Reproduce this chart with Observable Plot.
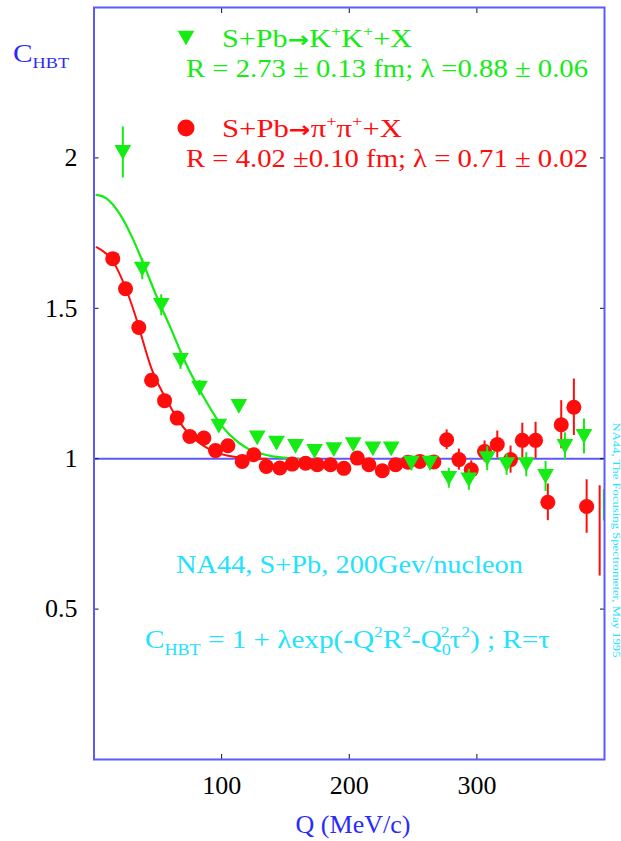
<!DOCTYPE html>
<html><head><meta charset="utf-8">
<script src="https://cdn.jsdelivr.net/npm/d3@7"></script>
<script src="https://cdn.jsdelivr.net/npm/@observablehq/plot@0.6"></script>
<style>body{margin:0;background:#fff} svg{display:block}</style>
</head><body><div id="chart"></div>
<script>
// ---- data ----
const pionQ = [14.7,24.7,35.1,45.1,55.3,65.2,75.1,86.1,95.2,104.9,116.1,125.2,135.0,145.6,155.3,165.8,174.9,185.3,195.8,206.3,215.4,225.9,236.3,246.0,255.3,266.3,276.3,285.9,295.6,306.0,316.0,326.4,335.6,346.0,355.6,366.1,376.0,386.0];
const pionC = [1.665,1.565,1.436,1.261,1.193,1.135,1.074,1.069,1.027,1.043,0.991,1.013,0.974,0.969,0.982,0.985,0.980,0.980,0.968,1.002,0.980,0.960,0.980,0.988,0.991,0.989,1.063,0.997,0.963,1.024,1.047,0.997,1.061,1.061,0.855,1.113,1.171,0.841];
const pionErr = [0.012,0.012,0.012,0.010,0.010,0.010,0.010,0.010,0.010,0.010,0.010,0.010,0.010,0.010,0.010,0.010,0.010,0.012,0.012,0.015,0.015,0.015,0.015,0.015,0.018,0.020,0.033,0.035,0.030,0.035,0.045,0.045,0.057,0.060,0.061,0.080,0.094,0.089];

const kaonQ = [22.6,37.8,52.7,67.8,82.7,97.8,113.5,127.9,143.0,157.9,172.8,187.9,203.1,218.5,232.9,248.6,263.2,278.0,293.7,308.1,323.3,338.7,353.8,369.0,383.9];
const kaonC = [2.018,1.630,1.510,1.327,1.235,1.108,1.174,1.069,1.052,1.041,1.024,1.030,1.047,1.033,1.033,0.985,0.985,0.935,0.930,1.000,0.980,0.980,0.941,1.041,1.074];
const kaonErr = [0.085,0.035,0.035,0.030,0.025,0.020,0.020,0.020,0.020,0.020,0.020,0.020,0.020,0.020,0.020,0.025,0.025,0.033,0.035,0.040,0.035,0.040,0.050,0.045,0.058];

// error bars whose markers are not drawn (last bins)
const edgeSeries = ["pion","kaon"];
const edgeQ = [396.2,399.5];
const edgeC = [0.760,0.845];
const edgeErr = [0.150,0.052];

// fitted curves
const pionFitQ = [2,7,15,25,35,45,55,65,75,85,95,105,115,125,135];
const pionFitC = [1.703,1.690,1.655,1.565,1.440,1.300,1.210,1.135,1.080,1.045,1.022,1.010,1.004,1.001,1.000];
const kaonFitQ = [2,10,20,30,40,50,60,70,80,90,100,110,120,130,140,150,160];
const kaonFitC = [1.877,1.865,1.815,1.735,1.635,1.530,1.435,1.335,1.250,1.175,1.110,1.065,1.035,1.018,1.008,1.003,1.000];

const xTicks = [100,200,300];
const yTicks = [0.5,1,1.5,2];
const xDomain = [0,400];
const yDomain = [0,2.5];
const baseline = [1];

// ---- styles ----
const GREEN = "#14ec14", RED = "#ff0c0c", BLUE = "#5a5aff", BLUE_TXT = "#2a2aff", CYAN = "#22e2ff";

const pion = pionQ.map((q,i)=>({q, c:pionC[i], e:pionErr[i]}));
const kaon = kaonQ.map((q,i)=>({q, c:kaonC[i], e:kaonErr[i]}));
const edge = edgeQ.map((q,i)=>({s:edgeSeries[i], q, c:edgeC[i], e:edgeErr[i]}));
const pionFit = pionFitQ.map((q,i)=>({q, c:pionFitC[i]}));
const kaonFit = kaonFitQ.map((q,i)=>({q, c:kaonFitC[i]}));

const downTriangle = {
  draw(ctx, size) {
    const w = Math.sqrt(size) * 1.5, h = w * 0.88;
    ctx.moveTo(-w/2, -h/2); ctx.lineTo(w/2, -h/2); ctx.lineTo(0, h/2); ctx.closePath();
  }
};

const plot = Plot.plot({
  width: 621, height: 841,
  marginLeft: 93.5, marginRight: 17, marginTop: 7, marginBottom: 82,
  x: {domain: xDomain},
  y: {domain: yDomain},
  style: {fontFamily: "'Liberation Serif', 'Times New Roman', serif", fontSize: "26px", color: "#111", background: "#fff"},
  marks: [
    Plot.ruleY(baseline, {stroke: BLUE, strokeWidth: 2}),
    Plot.line(pionFit, {x: "q", y: "c", stroke: RED, strokeWidth: 2, curve: "natural"}),
    Plot.line(kaonFit, {x: "q", y: "c", stroke: GREEN, strokeWidth: 2.2, curve: "natural"}),
    Plot.ruleX(pion, {x: "q", y1: d => d.c - d.e, y2: d => d.c + d.e, stroke: RED, strokeWidth: 2}),
    Plot.ruleX(edge, {x: "q", y1: d => d.c - d.e, y2: d => d.c + d.e, stroke: d => d.s === "pion" ? RED : GREEN, strokeWidth: 2}),
    Plot.dot(pion, {x: "q", y: "c", r: 7.5, fill: RED}),
    Plot.ruleX(kaon, {x: "q", y1: d => d.c - d.e, y2: d => d.c + d.e, stroke: GREEN, strokeWidth: 2}),
    Plot.dot(kaon, {x: "q", y: "c", r: 6.3, symbol: downTriangle, fill: GREEN}),
    Plot.axisY(yTicks, {anchor: "left", tickSize: -5, tickPadding: 21.5, label: null, fill: "#000", tickFormat: d => String(d)}),
    Plot.axisY(yTicks, {anchor: "right", tickSize: -5, tickFormat: () => "", label: null}),
    Plot.axisX(xTicks, {anchor: "bottom", tickSize: -5, tickPadding: 21, label: null, fill: "#000", tickFormat: d => String(d)}),
    Plot.axisX(xTicks, {anchor: "top", tickSize: -5, tickFormat: () => "", label: null}),
    Plot.frame({stroke: BLUE, strokeWidth: 2})
  ]
});
document.getElementById("chart").appendChild(plot);

// ---- annotations (rich text with sub/superscripts) ----
const svg = d3.select(plot);
const FONT = "'Liberation Serif', 'Times New Roman', serif";
function rich(x, y, parts, {size = 26, fill = "#000", length = null, anchor = "start"} = {}) {
  const t = svg.append("text").attr("x", x).attr("y", y)
    .attr("font-family", FONT).attr("font-size", size).attr("fill", fill)
    .attr("text-anchor", anchor);
  let off = 0;
  for (const p of parts) {
    const [txt, kind, extra] = Array.isArray(p) ? p : [p, null];
    let target = 0, fs = size;
    if (kind === "sup") { target = -0.42 * size; fs = 0.6 * size; }
    if (kind === "sub") { target = 0.25 * size; fs = 0.62 * size; }
    const ts = t.append("tspan").attr("font-size", fs).attr("dy", target - off).text(txt);
    if (kind === "arrow") ts.attr("font-family", "'DejaVu Sans', sans-serif").attr("font-weight", "bold").attr("font-size", size * 0.85);
    if (extra) ts.attr("dx", extra);
    off = target;
  }
  if (length) t.attr("textLength", length).attr("lengthAdjust", "spacingAndGlyphs");
  return t;
}

// y axis title
rich(13, 62, ["C", ["HBT","sub"]], {size: 25, fill: BLUE_TXT, length: 56});
// x axis title
rich(353, 833, ["Q (MeV/c)"], {size: 26, fill: BLUE_TXT, anchor: "middle"});

// legend markers
svg.append("path").attr("transform", "translate(186,38)")
  .attr("d", (() => { const p = d3.path(); downTriangle.draw(p, Math.PI * 6.3 * 6.3); return p.toString(); })())
  .attr("fill", GREEN);
svg.append("circle").attr("cx", 186).attr("cy", 128).attr("r", 8.5).attr("fill", RED);

// legend texts
rich(222, 47, ["S+Pb", ["\u2192","arrow"], "K", ["+","sup"], "K", ["+","sup"], "+X"], {size: 26, fill: GREEN, length: 190});
rich(186, 77, ["R = 2.73 \u00b1 0.13 fm; \u03bb =0.88 \u00b1 0.06"], {size: 26, fill: GREEN, length: 402});
rich(222, 137, ["S+Pb", ["\u2192","arrow"], "\u03c0", ["+","sup"], "\u03c0", ["+","sup"], "+X"], {size: 26, fill: RED, length: 180});
rich(186, 167, ["R = 4.02 \u00b10.10 fm; \u03bb = 0.71 \u00b1 0.02"], {size: 26, fill: RED, length: 402});

// experiment note and formula
rich(176, 573, ["NA44, S+Pb, 200Gev/nucleon"], {size: 26, fill: CYAN, length: 347});
rich(145, 648, ["C", ["HBT","sub"], " = 1 + \u03bbexp(-Q", ["2","sup"], "R", ["2","sup"], "-Q", ["0","sub"], ["2","sup",-9], "\u03c4", ["2","sup"], ") ; R=\u03c4"], {size: 26, fill: CYAN, length: 405});

// vertical credit on the right
svg.append("text").attr("transform", "translate(613,540) rotate(90)")
  .attr("font-family", FONT).attr("font-size", 10).attr("fill", CYAN)
  .attr("textLength", 235).attr("lengthAdjust", "spacingAndGlyphs")
  .text("NA44, The Focusing Spectrometer, May 1995");
</script>
</body></html>
